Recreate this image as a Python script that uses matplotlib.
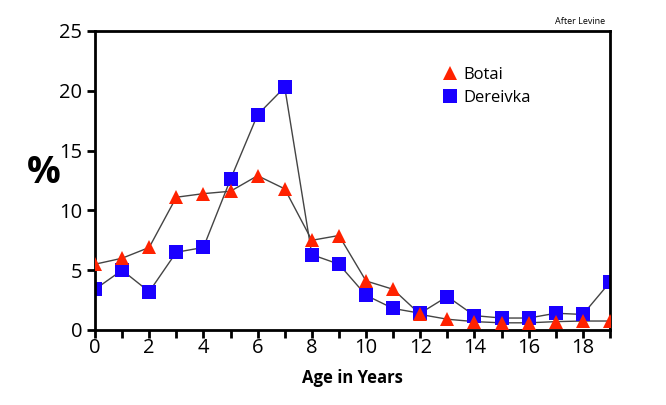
import numpy as np
import matplotlib
matplotlib.use("Agg")
import matplotlib.pyplot as plt
from matplotlib.ticker import MultipleLocator

ages = list(range(20))
botai = [5.5, 6.0, 6.9, 11.1, 11.4, 11.6, 12.9, 11.8, 7.5, 7.9,
         4.1, 3.4, 1.3, 0.9, 0.7, 0.6, 0.6, 0.7, 0.75, 0.75]
dereivka = [3.4, 5.0, 3.2, 6.5, 6.9, 12.6, 18.0, 20.3, 6.3, 5.5,
            2.9, 1.8, 1.4, 2.8, 1.2, 1.0, 1.0, 1.4, 1.3, 4.0]

plt.rcParams['font.family'] = ['Open Sans', 'DejaVu Sans']

fig = plt.figure(figsize=(6.66, 4.05), dpi=100)
ax = fig.add_axes([0.1426, 0.1852, 0.7733, 0.7383])

ax.plot(ages, botai, color='#444444', lw=1, zorder=1)
ax.plot(ages, dereivka, color='#444444', lw=1, zorder=1)
ax.plot(ages, botai, ls='none', marker='^', ms=10, color='#ff2200',
        markeredgewidth=0, label='Botai', zorder=3)
ax.plot(ages, dereivka, ls='none', marker='s', ms=10.5, color='#1a00ff',
        markeredgewidth=0, label='Dereivka', zorder=2)

ax.set_xlim(0, 19)
ax.set_ylim(0, 25)
ax.xaxis.set_major_locator(MultipleLocator(2))
ax.xaxis.set_minor_locator(MultipleLocator(1))
ax.yaxis.set_major_locator(MultipleLocator(5))
ax.tick_params(axis='both', which='major', direction='out', length=6, width=2, labelsize=14.5)
ax.tick_params(axis='x', which='minor', direction='out', length=6, width=2)
ax.tick_params(axis='x', pad=0)
ax.tick_params(axis='y', pad=3)
for s in ax.spines.values():
    s.set_linewidth(2)

ax.set_xlabel('Age in Years', fontsize=12, fontweight='bold', labelpad=8)
ax.set_ylabel('%', fontsize=27, fontweight='bold', rotation=0)
ax.yaxis.set_label_coords(-0.1, 0.46)

leg = ax.legend(loc='upper left', bbox_to_anchor=(0.64, 0.93), frameon=False,
                fontsize=12, handletextpad=0.25, labelspacing=0.4, handlelength=1.2)

fig.text(0.908, 0.935, 'After Levine', fontsize=6.5, ha='right', va='bottom')

fig.savefig('out.png', dpi=100)
